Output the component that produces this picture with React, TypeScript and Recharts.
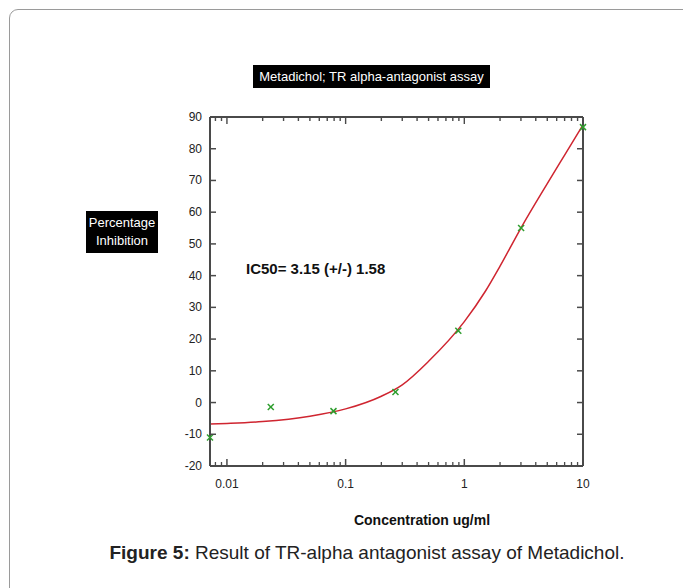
import React from 'react';
import { ComposedChart, Line, Scatter, XAxis, YAxis } from 'recharts';

// measured points (concentration ug/ml, % inhibition)
const pointConc = [0.0072, 0.0234, 0.079, 0.263, 0.89, 3.01, 10];
const pointInhib = [-11, -1.4, -2.7, 3.3, 22.6, 55, 86.8];

// fitted curve
const curveConc = [0.0072, 0.01, 0.02, 0.05, 0.1, 0.2, 0.3, 0.5, 1, 1.5, 2, 3, 5, 7, 10];
const curveInhib = [-6.8, -6.6, -6.0, -4.3, -2.0, 2.0, 5.6, 13.0, 25.5, 35.0, 43.0, 55.0, 69.0, 78.0, 87.5];

const xTicks = [0.01, 0.1, 1, 10];
const xMinorTicks = [
  0.008, 0.009, 0.02, 0.03, 0.04, 0.05, 0.06, 0.07, 0.08, 0.09,
  0.2, 0.3, 0.4, 0.5, 0.6, 0.7, 0.8, 0.9, 2, 3, 4, 5, 6, 7, 8, 9,
];
const yTicks = [-20, -10, 0, 10, 20, 30, 40, 50, 60, 70, 80, 90];

const points = pointConc.map((x, i) => ({ x, y: pointInhib[i] }));
const curve = curveConc.map((x, i) => ({ x, y: curveInhib[i] }));
const allXTicks = [...xMinorTicks, ...xTicks];

const FONT = '"Liberation Sans", Arial, sans-serif';
const AXIS = '#4a4a4a';
const X_DOMAIN: [number, number] = [0.0072, 10];

// tick renderers: marks point inward, like gnuplot
const BottomTick = (props: any) => {
  const { x, y, payload } = props;
  const major = xTicks.includes(payload.value);
  if (!major) {
    return <line x1={x} y1={y} x2={x} y2={y - 4} stroke={AXIS} strokeWidth={1.3} />;
  }
  return (
    <g>
      <line x1={x} y1={y} x2={x} y2={y - 7} stroke={AXIS} strokeWidth={1.5} />
      <text x={x} y={y + 22} textAnchor="middle" fontSize={12} fill="#222" fontFamily={FONT}>
        {payload.value}
      </text>
    </g>
  );
};

const TopTick = (props: any) => {
  const { x, y, payload } = props;
  const len = xTicks.includes(payload.value) ? 7 : 4;
  return <line x1={x} y1={y} x2={x} y2={y + len} stroke={AXIS} strokeWidth={1.4} />;
};

const LeftTick = (props: any) => {
  const { x, y, payload } = props;
  return (
    <g>
      <line x1={x} y1={y} x2={x + 6} y2={y} stroke={AXIS} strokeWidth={1.5} />
      <text x={x - 8} y={y + 4} textAnchor="end" fontSize={12} fill="#222" fontFamily={FONT}>
        {payload.value}
      </text>
    </g>
  );
};

const RightTick = (props: any) => {
  const { x, y } = props;
  return <line x1={x} y1={y} x2={x - 6} y2={y} stroke={AXIS} strokeWidth={1.5} />;
};

const XMark = (props: any) => {
  const { cx, cy } = props;
  const s = 3;
  return (
    <g stroke="#2e9e2e" strokeWidth={1.5}>
      <line x1={cx - s} y1={cy - s} x2={cx + s} y2={cy + s} />
      <line x1={cx - s} y1={cy + s} x2={cx + s} y2={cy - s} />
    </g>
  );
};

const App = () => {
  return (
    <div
      style={{
        position: 'absolute',
        left: 0,
        top: 0,
        width: 683,
        height: 588,
        overflow: 'hidden',
        background: '#fff',
        fontFamily: FONT,
      }}
    >
      {/* panel border */}
      <div
        style={{
          position: 'absolute',
          left: 9,
          top: 9,
          width: 700,
          height: 620,
          border: '1.5px solid #9a9a9a',
          borderRadius: 9,
        }}
      />

      <div style={{ position: 'absolute', left: 0, top: 0 }}>
        <ComposedChart
          width={683}
          height={588}
          margin={{ top: 116, right: 99, bottom: 121, left: 209 }}
        >
          <XAxis
            xAxisId={0}
            dataKey="x"
            type="number"
            scale="log"
            domain={X_DOMAIN}
            ticks={allXTicks}
            interval={0}
            height={1}
            tickSize={0}
            tickMargin={0}
            tickLine={false}
            tick={BottomTick}
            axisLine={{ stroke: AXIS, strokeWidth: 2 }}
          />
          <XAxis
            xAxisId="top"
            orientation="top"
            dataKey="x"
            type="number"
            scale="log"
            domain={X_DOMAIN}
            ticks={allXTicks}
            interval={0}
            height={1}
            tickSize={0}
            tickMargin={0}
            tickLine={false}
            tick={TopTick}
            axisLine={{ stroke: AXIS, strokeWidth: 2 }}
          />
          <YAxis
            yAxisId={0}
            type="number"
            domain={[-20, 90]}
            ticks={yTicks}
            interval={0}
            width={1}
            tickSize={0}
            tickMargin={0}
            tickLine={false}
            tick={LeftTick}
            axisLine={{ stroke: AXIS, strokeWidth: 2 }}
          />
          <YAxis
            yAxisId="r"
            orientation="right"
            type="number"
            domain={[-20, 90]}
            ticks={yTicks}
            interval={0}
            width={1}
            tickSize={0}
            tickMargin={0}
            tickLine={false}
            tick={RightTick}
            axisLine={{ stroke: AXIS, strokeWidth: 2 }}
          />

          <Line
            data={curve}
            dataKey="y"
            type="monotone"
            stroke="#cf2530"
            strokeWidth={1.5}
            dot={false}
            isAnimationActive={false}
          />
          {/* points go on the top/right pair (same scales) so those axes get data too */}
          <Scatter
            data={points}
            dataKey="y"
            xAxisId="top"
            yAxisId="r"
            shape={XMark}
            isAnimationActive={false}
          />
        </ComposedChart>
      </div>

      {/* chart title */}
      <div
        style={{
          position: 'absolute',
          left: 253,
          top: 65,
          width: 237,
          height: 23,
          background: '#000',
          color: '#fff',
          fontSize: 13,
          lineHeight: '23px',
          textAlign: 'center',
          whiteSpace: 'nowrap',
        }}
      >
        Metadichol; TR alpha-antagonist assay
      </div>

      {/* y axis label */}
      <div
        style={{
          position: 'absolute',
          left: 86,
          top: 211,
          width: 72,
          height: 42,
          background: '#000',
          color: '#fff',
          fontSize: 13,
          lineHeight: '18px',
          paddingTop: 3,
          boxSizing: 'border-box',
          textAlign: 'center',
        }}
      >
        Percentage
        <br />
        Inhibition
      </div>

      <div
        style={{
          position: 'absolute',
          left: 246,
          top: 260,
          fontSize: 15,
          fontWeight: 'bold',
          color: '#111',
          whiteSpace: 'nowrap',
        }}
      >
        IC50= 3.15 (+/-) 1.58
      </div>

      <div
        style={{
          position: 'absolute',
          left: 322,
          width: 200,
          top: 512,
          fontSize: 14,
          fontWeight: 'bold',
          color: '#111',
          textAlign: 'center',
        }}
      >
        Concentration ug/ml
      </div>

      <div
        style={{
          position: 'absolute',
          left: 0,
          width: 734,
          top: 542,
          fontSize: 19,
          color: '#222',
          textAlign: 'center',
          whiteSpace: 'nowrap',
        }}
      >
        <b>Figure 5:</b> Result of TR-alpha antagonist assay of Metadichol.
      </div>
    </div>
  );
};

export default App;
